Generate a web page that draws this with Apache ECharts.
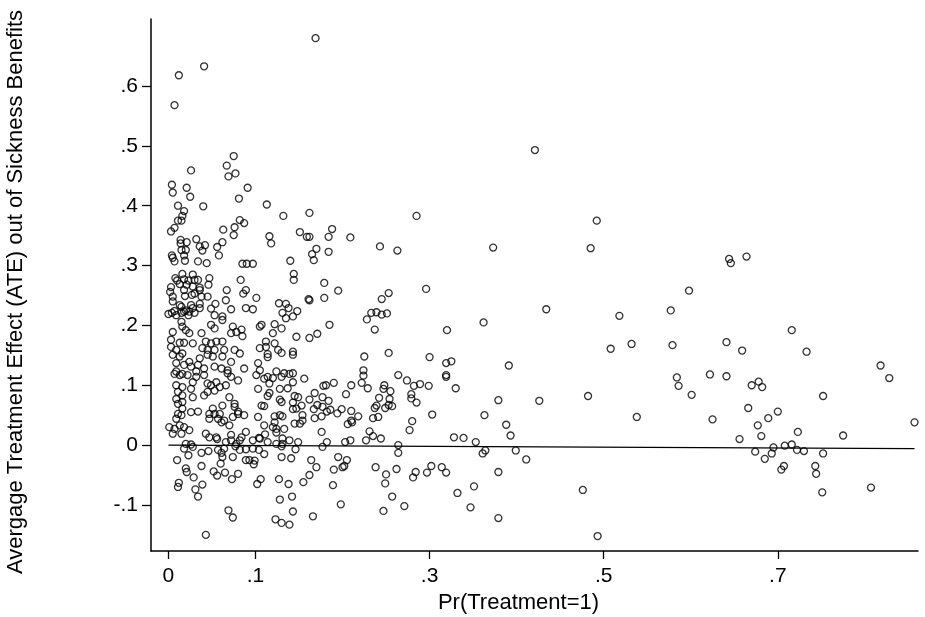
<!DOCTYPE html>
<html>
<head>
<meta charset="utf-8">
<script src="https://cdn.jsdelivr.net/npm/echarts@6/dist/echarts.min.js"></script>
<style>
  html, body { margin: 0; padding: 0; background: #fff; }
  #chart { width: 925px; height: 617px; }
</style>
</head>
<body>
<div id="chart"></div>
<script>
// tick labels
const xTicks = [0, 0.1, 0.3, 0.5, 0.7];
const yTicks = [-0.1, 0, 0.1, 0.2, 0.3, 0.4, 0.5, 0.6];

// [Pr(Treatment=1), ATE], Pr < .1
const lowProp = [
  [0.012,0.618],[0.041,0.633],[0.007,0.568],[0.075,0.483],[0.067,0.467],[0.077,0.454],[0.069,0.449],[0.026,0.459],
  [0.004,0.435],[0.005,0.422],[0.021,0.430],[0.025,0.415],[0.091,0.430],[0.081,0.412],
  [0.011,0.400],[0.040,0.399],[0.018,0.391],[0.016,0.383],[0.011,0.375],[0.015,0.375],[0.007,0.363],[0.003,0.357],
  [0.082,0.376],[0.087,0.371],[0.063,0.360],[0.076,0.364],[0.075,0.351],[0.014,0.343],[0.021,0.339],[0.014,0.337],
  [0.032,0.344],[0.036,0.332],[0.042,0.334],[0.039,0.325],[0.062,0.339],[0.056,0.331],[0.058,0.317],[0.015,0.326],
  [0.020,0.326],[0.018,0.317],[0.004,0.317],[0.005,0.313],[0.007,0.307],[0.019,0.308],[0.034,0.307],[0.044,0.304],
  [0.085,0.303],[0.090,0.303],[0.097,0.303],[0.083,0.276],[0.008,0.279],[0.010,0.275],[0.016,0.286],[0.018,0.277],
  [0.023,0.275],[0.028,0.285],[0.030,0.276],[0.034,0.276],[0.047,0.279],[0.046,0.268],[0.013,0.269],[0.021,0.268],
  [0.028,0.265],[0.036,0.263],[0.003,0.264],[0.002,0.256],[0.005,0.248],[0.018,0.259],[0.019,0.249],[0.027,0.251],
  [0.030,0.253],[0.036,0.259],[0.038,0.248],[0.045,0.248],[0.067,0.259],[0.089,0.259],[0.086,0.253],[0.066,0.242],
  [0.054,0.236],[0.049,0.228],[0.062,0.215],[0.072,0.227],[0.089,0.229],[0.097,0.227],[0.000,0.219],[0.004,0.221],
  [0.007,0.224],[0.009,0.217],[0.015,0.231],[0.015,0.221],[0.020,0.225],[0.023,0.217],[0.028,0.229],[0.030,0.221],
  [0.036,0.229],
  [0.005,0.240],[0.013,0.234],[0.026,0.234],[0.036,0.236],[0.018,0.223],[0.024,0.223],[0.053,0.217],[0.062,0.209],
  [0.015,0.206],[0.016,0.198],[0.020,0.192],[0.049,0.201],[0.053,0.195],[0.074,0.198],[0.005,0.189],[0.024,0.187],
  [0.038,0.187],[0.072,0.187],[0.078,0.189],[0.003,0.176],[0.013,0.171],[0.018,0.171],[0.028,0.170],[0.043,0.173],
  [0.049,0.170],[0.055,0.173],[0.062,0.173],[0.003,0.164],[0.009,0.159],[0.039,0.162],[0.045,0.159],[0.053,0.159],
  [0.064,0.159],[0.076,0.159],[0.005,0.151],[0.013,0.148],[0.016,0.153],[0.024,0.139],[0.036,0.145],[0.045,0.151],
  [0.051,0.148],[0.062,0.148],[0.072,0.139],[0.009,0.137],[0.018,0.134],[0.026,0.131],[0.034,0.134],[0.041,0.128],
  [0.053,0.131],[0.061,0.128],[0.068,0.125],[0.009,0.123],[0.032,0.123],[0.068,0.120],
  [0.084,0.193],[0.085,0.182],[0.082,0.153],[0.087,0.128],
  [0.007,0.119],[0.013,0.117],[0.016,0.119],[0.022,0.117],[0.032,0.114],[0.041,0.117],[0.045,0.103],[0.049,0.100],
  [0.055,0.105],[0.059,0.097],[0.066,0.100],[0.072,0.114],[0.045,0.089],[0.053,0.091],[0.028,0.105],[0.026,0.094],
  [0.016,0.097],[0.009,0.100],[0.011,0.089],[0.016,0.083],[0.009,0.077],[0.011,0.069],[0.016,0.072],[0.028,0.080],
  [0.041,0.083],[0.070,0.080],[0.076,0.069],[0.062,0.066],[0.051,0.061],[0.053,0.052],[0.047,0.052],[0.059,0.052],
  [0.016,0.061],[0.011,0.052],[0.015,0.050],[0.026,0.055],[0.034,0.056],[0.009,0.044],[0.047,0.044],[0.057,0.044],
  [0.061,0.038],[0.064,0.041],[0.070,0.033],[0.074,0.047],[0.080,0.052],[0.001,0.030],[0.007,0.027],[0.013,0.033],
  [0.018,0.030],[0.024,0.025],[0.005,0.019],[0.015,0.019],[0.043,0.019],[0.047,0.013],[0.055,0.013],[0.066,0.005],
  [0.072,0.008],[0.078,0.002],[0.020,0.002],[0.026,0.001],
  [0.080,0.108],[0.080,0.056],[0.087,0.050],[0.076,0.064],[0.089,0.022],[0.084,0.013],[0.082,0.008],[0.097,0.008],
  [0.056,0.010],[0.072,0.017],[0.028,-0.003],[0.077,-0.002],
  [0.018,-0.006],[0.023,-0.017],[0.038,-0.013],[0.046,-0.010],[0.057,-0.008],[0.061,-0.013],[0.064,-0.006],[0.062,-0.020],
  [0.074,-0.020],[0.082,-0.008],[0.089,-0.007],[0.097,-0.006],[0.089,-0.025],[0.093,-0.025],[0.099,-0.026],[0.098,-0.032],
  [0.010,-0.025],[0.038,-0.035],[0.060,-0.031],[0.020,-0.039],[0.021,-0.045],[0.029,-0.054],[0.052,-0.044],[0.056,-0.051],
  [0.065,-0.046],[0.080,-0.048],[0.073,-0.057],[0.039,-0.066],[0.031,-0.074],[0.034,-0.086],[0.012,-0.063],[0.011,-0.070],
  [0.069,-0.109],[0.074,-0.121],[0.043,-0.150]
];

// .1 <= Pr < .3
const midProp = [
  [0.169,0.680],[0.113,0.402],[0.132,0.383],[0.162,0.388],[0.151,0.356],[0.159,0.348],[0.116,0.349],[0.118,0.337],
  [0.140,0.308],[0.144,0.286],[0.144,0.276],[0.101,0.246],[0.127,0.237],[0.138,0.229],[0.135,0.236],[0.148,0.224],
  [0.161,0.244],[0.131,0.221],
  [0.285,0.383],[0.188,0.361],[0.184,0.348],[0.162,0.348],[0.209,0.347],[0.170,0.328],[0.165,0.319],[0.167,0.309],
  [0.184,0.323],[0.243,0.332],[0.263,0.325],[0.179,0.271],[0.195,0.258],[0.296,0.261],[0.253,0.254],[0.245,0.244],
  [0.179,0.246],
  [0.162,0.242],[0.233,0.221],[0.239,0.222],[0.245,0.218],[0.251,0.220],[0.228,0.210],[0.185,0.201],[0.171,0.186],
  [0.237,0.193],[0.162,0.179],[0.253,0.154],[0.225,0.148],[0.224,0.125],[0.224,0.116],[0.264,0.117],[0.274,0.108],
  [0.222,0.104],[0.229,0.095],[0.190,0.104],[0.178,0.099],[0.181,0.100],[0.210,0.100],[0.282,0.099],[0.289,0.102],
  [0.299,0.099],[0.248,0.100],[0.247,0.094],[0.255,0.090],[0.204,0.085],[0.168,0.087],[0.177,0.080],[0.162,0.076],
  [0.171,0.067],[0.177,0.064],[0.184,0.074],[0.242,0.079],[0.254,0.077],[0.279,0.085],[0.279,0.078],[0.285,0.071],
  [0.237,0.062],[0.239,0.066],[0.249,0.062],[0.253,0.067],[0.257,0.065],[0.167,0.060],[0.186,0.059],[0.194,0.053],
  [0.199,0.060],[0.210,0.057],[0.218,0.048],[0.168,0.045],[0.176,0.048],[0.182,0.056],[0.210,0.041],[0.206,0.035],
  [0.211,0.038],[0.235,0.045],[0.241,0.047],[0.280,0.040],[0.277,0.025],[0.176,0.022],[0.182,0.005],[0.203,0.005],
  [0.209,0.008],[0.227,0.008],[0.231,0.023],[0.235,0.015],[0.244,0.011],[0.264,0.000],[0.177,-0.003],[0.264,-0.013],
  [0.164,-0.025],[0.195,-0.020],[0.205,-0.025],[0.170,-0.037],[0.190,-0.041],[0.200,-0.037],[0.202,-0.035],[0.238,-0.037],
  [0.262,-0.040],[0.250,-0.049],[0.284,-0.045],[0.281,-0.054],[0.297,-0.046],[0.162,-0.050],[0.189,-0.067],[0.249,-0.064],
  [0.257,-0.086],[0.198,-0.099],[0.271,-0.102],[0.247,-0.110],[0.166,-0.119],
  [0.135,0.212],[0.143,0.215],[0.107,0.201],[0.105,0.198],[0.122,0.202],[0.130,0.195],[0.120,0.187],[0.147,0.181],
  [0.112,0.173],[0.122,0.170],[0.105,0.162],[0.112,0.164],[0.126,0.159],[0.130,0.154],[0.114,0.152],[0.114,0.147],
  [0.143,0.156],[0.143,0.151],[0.103,0.137],[0.105,0.125],[0.124,0.123],[0.133,0.120],[0.143,0.120],
  [0.101,0.117],[0.110,0.111],[0.114,0.114],[0.120,0.112],[0.130,0.114],[0.139,0.119],[0.143,0.105],[0.156,0.111],
  [0.103,0.094],[0.116,0.103],[0.128,0.094],[0.137,0.095],[0.116,0.087],[0.114,0.082],[0.128,0.076],[0.130,0.072],
  [0.145,0.082],[0.149,0.080],[0.143,0.071],[0.107,0.066],[0.110,0.065],[0.147,0.061],[0.143,0.060],[0.153,0.066],
  [0.103,0.047],[0.122,0.048],[0.128,0.050],[0.131,0.048],[0.154,0.050],[0.122,0.038],[0.120,0.030],[0.124,0.027],
  [0.110,0.033],[0.133,0.027],[0.145,0.036],[0.151,0.036],[0.154,0.041],[0.105,0.011],[0.114,0.005],[0.124,0.002],
  [0.131,0.002],[0.139,0.008],[0.149,0.005],[0.104,0.012],[0.111,0.018],[0.124,0.021],[0.131,0.011],[0.130,-0.002],
  [0.104,-0.008],[0.110,-0.015],[0.130,-0.020],[0.141,-0.022],[0.146,-0.007],[0.102,-0.065],[0.106,-0.057],[0.127,-0.057],
  [0.138,-0.065],[0.142,-0.086],[0.128,-0.091],[0.155,-0.062],[0.143,-0.111],[0.123,-0.124],[0.130,-0.130],[0.139,-0.133]
];

// Pr >= .3
const highProp = [
  [0.373,0.330],[0.362,0.205],[0.320,0.192],[0.300,0.147],[0.319,0.137],[0.325,0.140],[0.319,0.117],[0.319,0.114],
  [0.391,0.133],[0.330,0.095],[0.303,0.051],[0.363,0.050],[0.379,0.075],[0.388,0.034],[0.393,0.016],[0.328,0.013],
  [0.339,0.012],[0.353,0.005],[0.361,-0.014],[0.364,-0.009],[0.399,-0.009],[0.302,-0.035],[0.314,-0.037],[0.319,-0.046],
  [0.379,-0.045],[0.351,-0.069],[0.332,-0.080],[0.347,-0.104],[0.379,-0.122],
  [0.421,0.493],[0.492,0.375],[0.485,0.329],[0.598,0.258],[0.434,0.227],[0.577,0.225],[0.518,0.216],[0.532,0.169],
  [0.508,0.161],[0.579,0.167],[0.584,0.113],[0.586,0.099],[0.622,0.118],[0.601,0.084],[0.482,0.082],[0.426,0.074],
  [0.538,0.047],[0.625,0.043],[0.411,-0.024],[0.476,-0.075],[0.493,-0.152],
  [0.644,0.311],[0.646,0.304],[0.664,0.315],[0.716,0.192],[0.641,0.172],[0.659,0.158],[0.733,0.156],[0.818,0.133],
  [0.828,0.112],[0.641,0.115],[0.670,0.100],[0.678,0.106],[0.682,0.097],[0.752,0.082],[0.666,0.062],[0.700,0.056],
  [0.689,0.045],[0.677,0.033],[0.681,0.015],[0.723,0.022],[0.656,0.010],[0.775,0.016],[0.857,0.038],[0.674,-0.011],
  [0.695,-0.004],[0.693,-0.014],[0.685,-0.023],[0.708,-0.001],[0.716,0.001],[0.722,-0.008],[0.730,-0.010],[0.752,-0.014],
  [0.707,-0.035],[0.704,-0.041],[0.743,-0.035],[0.744,-0.048],[0.751,-0.079],[0.807,-0.071]
];

// fitted line
const fitX = [0, 0.857];
const fitY = [0.0, -0.0058];

const points = lowProp.concat(midProp, highProp);
const fitLine = fitX.map((x, i) => [x, fitY[i]]);

function fmt(v) {
  if (Math.abs(v) < 1e-9) return '0';
  return (v < 0 ? '-' : '') + String(Math.abs(v)).replace(/^0/, '');
}

const FONT = '"Liberation Sans", Arial, sans-serif';

const chart = echarts.init(document.getElementById('chart'));
chart.setOption({
  animation: false,
  backgroundColor: '#fff',
  grid: { left: 151, right: 7, top: 19, bottom: 66, outerBoundsMode: 'none' },
  xAxis: {
    type: 'value',
    min: -0.02,
    max: 0.861,
    name: 'Pr(Treatment=1)',
    nameLocation: 'middle',
    nameGap: 36,
    nameTextStyle: { fontFamily: FONT, fontSize: 22, color: '#000', padding: [0, 32, 0, 0] },
    splitLine: { show: false },
    axisLine: { onZero: false, lineStyle: { color: '#000', width: 1.5 } },
    axisTick: { customValues: xTicks, length: 8, lineStyle: { color: '#000', width: 1.3 } },
    axisLabel: {
      customValues: xTicks,
      formatter: fmt,
      margin: 15,
      fontFamily: FONT,
      fontSize: 21,
      color: '#000'
    }
  },
  yAxis: {
    type: 'value',
    min: -0.177,
    max: 0.712,
    name: 'Avergage Treatment Effect (ATE) out of Sickness Benefits',
    nameLocation: 'middle',
    nameRotate: 90,
    nameGap: 124,
    nameTextStyle: { fontFamily: FONT, fontSize: 22, color: '#000', padding: [0, 14, 0, 0] },
    splitLine: { show: false },
    axisLine: { onZero: false, lineStyle: { color: '#000', width: 1.5 } },
    axisTick: { customValues: yTicks, length: 9, lineStyle: { color: '#000', width: 1.3 } },
    axisLabel: {
      customValues: yTicks,
      formatter: fmt,
      margin: 13,
      fontFamily: FONT,
      fontSize: 21,
      color: '#000'
    }
  },
  series: [
    {
      type: 'scatter',
      data: points,
      symbol: 'circle',
      symbolSize: 7,
      itemStyle: { color: 'rgba(0,0,0,0)', borderColor: '#000', borderWidth: 1.3 },
      z: 3
    },
    {
      type: 'line',
      data: fitLine,
      symbol: 'none',
      lineStyle: { color: '#000', width: 1.3 },
      z: 2
    }
  ]
});
</script>
</body>
</html>
